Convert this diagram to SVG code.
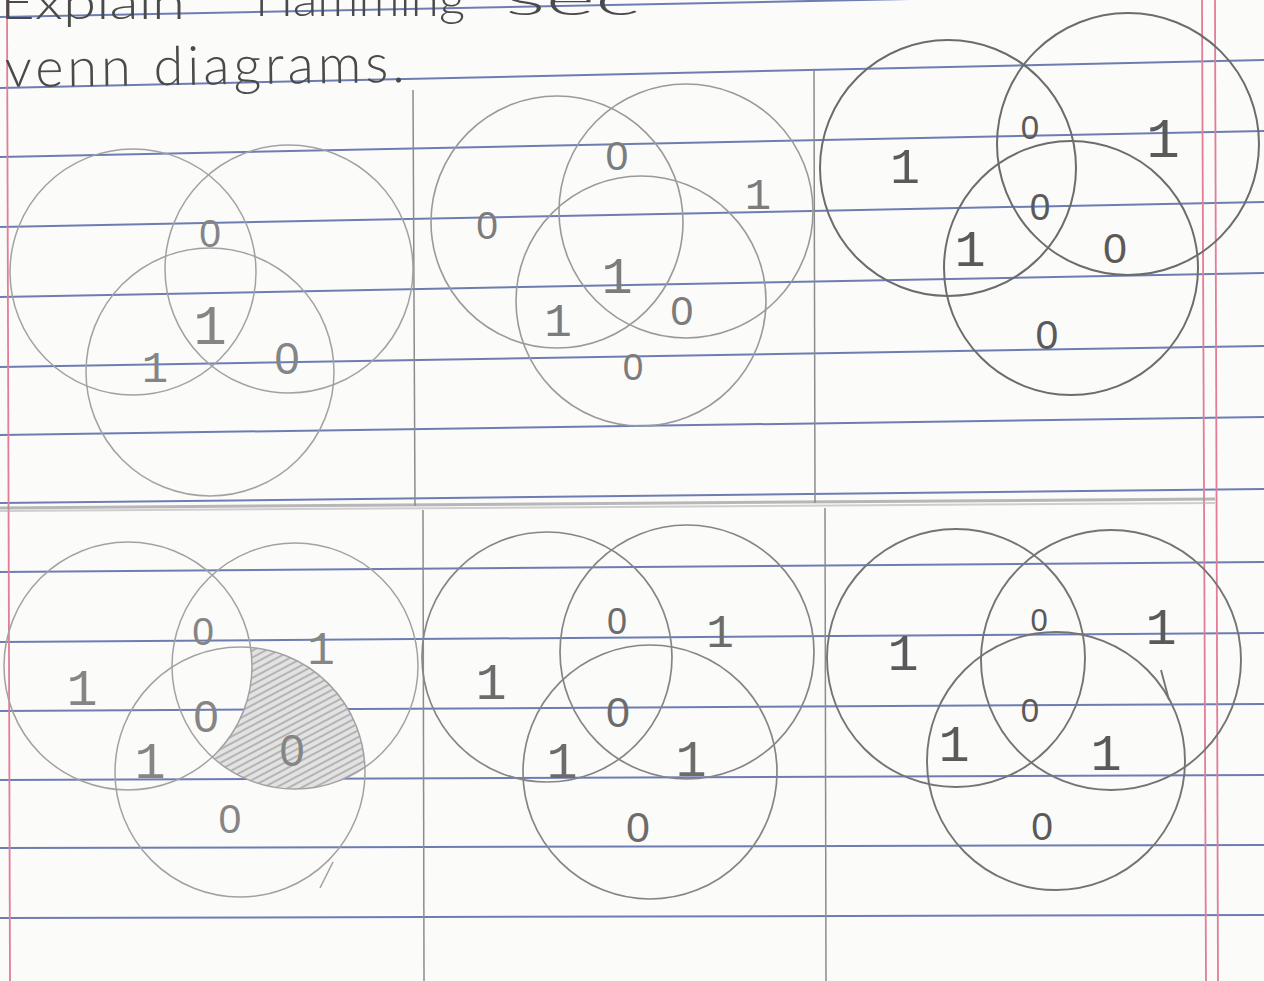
<svg xmlns="http://www.w3.org/2000/svg" width="1264" height="981" viewBox="0 0 1264 981">
<style>
.rule{stroke:#5468a6;stroke-width:2;opacity:0.85}
.red{stroke:#e27d95;stroke-width:1.8;fill:none}
.div{stroke:#8c8c8c;stroke-width:1.5;fill:none}
.hand{font-family:"Lato","Liberation Sans",sans-serif;font-weight:300;fill:#4a4a4a}
.d{font-family:"Liberation Mono","DejaVu Sans Mono",monospace;text-anchor:middle}
.z{font-family:"Liberation Sans","Arial",sans-serif;text-anchor:middle}
.c{fill:none}
.p1 .c{stroke:#a2a2a2;stroke-width:1.5}
.p2 .c{stroke:#9a9a9a;stroke-width:1.6}
.p3 .c{stroke:#6c6c6c;stroke-width:2}
.p4 .c{stroke:#a2a2a2;stroke-width:1.5}
.p5 .c{stroke:#858585;stroke-width:1.7}
.p6 .c{stroke:#747474;stroke-width:1.9}
.p1 text,.p4 text{fill:#858585}
.p2 text{fill:#7c7c7c}
.p3 text,.p6 text{fill:#5a5a5a}
.p5 text{fill:#6c6c6c}
</style>
<defs>
<pattern id="hatch" width="6" height="6" patternUnits="userSpaceOnUse" patternTransform="rotate(-28)">
<rect width="6" height="6" fill="#e2e2e2"/>
<line x1="0" y1="3" x2="6" y2="3" stroke="#b4b4b4" stroke-width="2"/>
</pattern>
<clipPath id="clipB4"><circle cx="295" cy="666" r="123"/></clipPath>
<mask id="maskCA4" maskUnits="userSpaceOnUse" x="0" y="500" width="500" height="481">
<circle cx="240" cy="772" r="125" fill="#fff"/>
<circle cx="128" cy="666" r="124" fill="#000"/>
</mask>
</defs>
<rect width="1264" height="981" fill="#fbfbfa"/>
<g id="ruling">
<line class="rule" x1="0" y1="17" x2="1264" y2="-8"/>
<line class="rule" x1="0" y1="88" x2="1264" y2="60"/>
<line class="rule" x1="0" y1="157" x2="1264" y2="131"/>
<line class="rule" x1="0" y1="227" x2="1264" y2="202"/>
<line class="rule" x1="0" y1="297" x2="1264" y2="273"/>
<line class="rule" x1="0" y1="367" x2="1264" y2="346"/>
<line class="rule" x1="0" y1="435" x2="1264" y2="417"/>
<line class="rule" x1="0" y1="503" x2="1264" y2="489"/>
<line class="rule" x1="0" y1="572" x2="1264" y2="562"/>
<line class="rule" x1="0" y1="642" x2="1264" y2="633"/>
<line class="rule" x1="0" y1="711" x2="1264" y2="704"/>
<line class="rule" x1="0" y1="780" x2="1264" y2="775"/>
<line class="rule" x1="0" y1="848" x2="1264" y2="845"/>
<line class="rule" x1="0" y1="918" x2="1264" y2="915"/>
<line class="red" x1="7" y1="0" x2="10" y2="981"/>
<line class="red" x1="1202" y1="0" x2="1206" y2="981"/>
<line class="red" x1="1215" y1="0" x2="1218" y2="981"/>
</g>
<g id="dividers">
<path d="M0,508 L1215,499" stroke="#9a9a9a" stroke-width="3" opacity="0.7" fill="none"/>
<path d="M0,511 L1215,503" stroke="#b0b0b0" stroke-width="2" opacity="0.6" fill="none"/>
<line class="div" x1="413" y1="90" x2="415" y2="506"/>
<line class="div" x1="814" y1="70" x2="815" y2="503"/>
<line class="div" x1="423" y1="510" x2="424" y2="981"/>
<line class="div" x1="825" y1="508" x2="826" y2="981"/>
</g>
<g id="heading" class="hand">
<text x="0" y="19" font-size="48" textLength="185" lengthAdjust="spacingAndGlyphs">Explain</text>
<text x="255" y="16" font-size="48" textLength="210" lengthAdjust="spacingAndGlyphs">Hamming</text>
<text x="505" y="15" font-size="48" textLength="135" lengthAdjust="spacingAndGlyphs">sec</text>
<text x="5" y="87" font-size="54" textLength="400" lengthAdjust="spacing" transform="rotate(-0.7 5 87)">venn diagrams.</text>
</g>
<g id="venn1" class="p1">
<circle class="c" cx="133" cy="272" r="123"/>
<circle class="c" cx="289" cy="269" r="124"/>
<circle class="c" cx="210" cy="372" r="124"/>
<text class="z" x="210" y="247" font-size="39">0</text>
<text class="d" x="210" y="344" font-size="56">1</text>
<text class="d" x="155" y="382" font-size="44">1</text>
<text class="z" x="287" y="374" font-size="45">0</text>
</g>
<g id="venn2" class="p2">
<circle class="c" cx="557" cy="222" r="126"/>
<circle class="c" cx="686" cy="211" r="127"/>
<circle class="c" cx="641" cy="301" r="125"/>
<text class="z" x="617" y="170" font-size="41">0</text>
<text class="z" x="487" y="239" font-size="39">0</text>
<text class="d" x="758" y="209" font-size="44">1</text>
<text class="d" x="617" y="293" font-size="52">1</text>
<text class="d" x="558" y="336" font-size="46">1</text>
<text class="z" x="682" y="325" font-size="41">0</text>
<text class="z" x="633" y="380" font-size="37">0</text>
</g>
<g id="venn3" class="p3">
<circle class="c" cx="948" cy="168" r="128"/>
<circle class="c" cx="1128" cy="144" r="131"/>
<circle class="c" cx="1071" cy="268" r="127"/>
<text class="d" x="905" y="183" font-size="50">1</text>
<text class="z" x="1030" y="139" font-size="33">0</text>
<text class="d" x="1163" y="157" font-size="56">1</text>
<text class="z" x="1040" y="220" font-size="37">0</text>
<text class="d" x="970" y="266" font-size="52">1</text>
<text class="z" x="1115" y="263" font-size="43">0</text>
<text class="z" x="1047" y="349" font-size="41">0</text>
</g>
<g id="venn4" class="p4">
<g clip-path="url(#clipB4)"><rect x="100" y="540" width="300" height="260" fill="url(#hatch)" mask="url(#maskCA4)"/></g>
<circle class="c" cx="128" cy="666" r="124"/>
<circle class="c" cx="295" cy="666" r="123"/>
<circle class="c" cx="240" cy="772" r="125"/>
<path class="c" d="M333,862 L320,888"/>
<text class="z" x="203" y="645" font-size="39">0</text>
<text class="d" x="321" y="664" font-size="46">1</text>
<text class="d" x="82" y="705" font-size="52">1</text>
<text class="z" x="206" y="732" font-size="45">0</text>
<text class="d" x="150" y="778" font-size="52">1</text>
<text class="z" x="292" y="766" font-size="45">0</text>
<text class="z" x="230" y="833" font-size="41">0</text>
</g>
<g id="venn5" class="p5">
<circle class="c" cx="547" cy="657" r="125"/>
<circle class="c" cx="687" cy="652" r="127"/>
<circle class="c" cx="650" cy="772" r="127"/>
<text class="z" x="617" y="634" font-size="36">0</text>
<text class="d" x="720" y="647" font-size="46">1</text>
<text class="d" x="491" y="699" font-size="52">1</text>
<text class="z" x="618" y="727" font-size="43">0</text>
<text class="d" x="562" y="778" font-size="52">1</text>
<text class="d" x="691" y="776" font-size="52">1</text>
<text class="z" x="638" y="842" font-size="43">0</text>
</g>
<g id="venn6" class="p6">
<circle class="c" cx="956" cy="658" r="129"/>
<circle class="c" cx="1111" cy="660" r="130"/>
<circle class="c" cx="1056" cy="761" r="129"/>
<path class="c" d="M1161,670 L1169,700"/>
<text class="z" x="1039" y="631" font-size="31">0</text>
<text class="d" x="1161" y="644" font-size="52">1</text>
<text class="d" x="903" y="670" font-size="52">1</text>
<text class="z" x="1030" y="722" font-size="33">0</text>
<text class="d" x="954" y="761" font-size="52">1</text>
<text class="d" x="1106" y="770" font-size="52">1</text>
<text class="z" x="1042" y="840" font-size="39">0</text>
</g>
</svg>
